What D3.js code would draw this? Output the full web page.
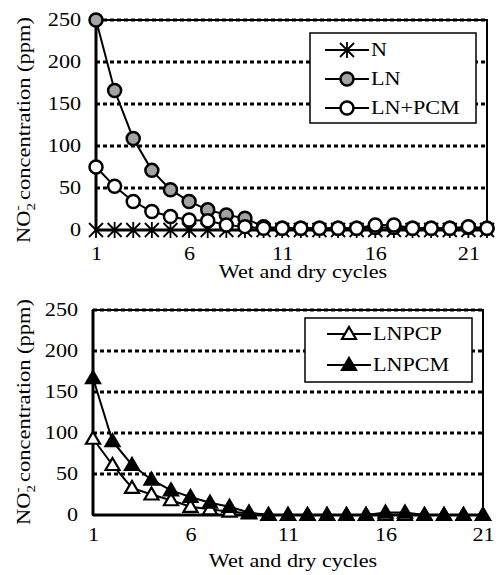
<!DOCTYPE html>
<html>
<head>
<meta charset="utf-8">
<script src="https://cdnjs.cloudflare.com/ajax/libs/d3/7.8.5/d3.min.js"></script>
<style>
   body { margin: 0; background: #fff; }
   svg text { font-family: "Liberation Serif", "Times New Roman", Times, "DejaVu Serif", serif !important; }
   .grid line { stroke: #000; stroke-width: 3; stroke-dasharray: 4,3; }
   .series-line { fill: none; stroke: #000; stroke-width: 2; }
</style>
</head>
<body>
<div id="chart"></div>
<script>
// Top panel data
const topCycles = [1, 2, 3, 4, 5, 6, 7, 8, 9, 10, 11, 12, 13, 14, 15, 16, 17, 18, 19, 20, 21, 22];
const nValues = [0, 0, 0, 0, 0, 0, 0, 0, 0, 0, 0, 0, 0, 0, 0, 0, 0, 0, 0, 0, 0, 0];
const lnValues = [250, 166, 109, 71, 48, 34, 24, 18, 14, 4, 2, 2, 2, 2, 2, 3, 3, 2, 2, 2, 3, 2];
const lnPcmValues = [75, 52, 34, 22, 16, 12, 11, 6, 4, 2, 2, 2, 2, 2, 2, 6, 6, 2, 2, 2, 4, 2];

// Bottom panel data
const bottomCycles = [1, 2, 3, 4, 5, 6, 7, 8, 9, 10, 11, 12, 13, 14, 15, 16, 17, 18, 19, 20, 21];
const lnpcpValues = [93, 61, 33, 25, 18, 10, 7, 4, 2, 0, 0, 0, 0, 0, 0, 0, 0, 0, 0, 0, 0];
const lnpcmValues = [167, 90, 61, 43, 30, 22, 15, 10, 3, 0, 0, 0, 0, 0, 0, 3, 3, 0, 0, 0, 0];

// Axis ticks
const xTicks = [1, 6, 11, 16, 21];
const yTicks = [0, 50, 100, 150, 200, 250];

const stretch = 1.23;

const svg = d3.select("#chart").append("svg")
   .attr("width", 496)
   .attr("height", 575);

const markers = {
   star: (g) => {
      g.append("path")
         .attr("d", "M-7,-7L7,7M-7,7L7,-7M0,-8L0,8")
         .attr("fill", "none")
         .attr("stroke", "#000")
         .attr("stroke-width", 1.8);
   },
   circle: (fill) => (g) => {
      g.append("circle")
         .attr("r", 6.5)
         .attr("fill", fill)
         .attr("stroke", "#000")
         .attr("stroke-width", 2.5);
   },
   triangle: (fill) => (g) => {
      g.append("path")
         .attr("d", "M0,-7L7,5L-7,5Z")
         .attr("fill", fill)
         .attr("stroke", "#000")
         .attr("stroke-width", 2.2)
         .attr("stroke-linejoin", "miter");
   }
};

const drawPanel = (panel) => {
   const x = d3.scaleLinear().domain(panel.xDomain).range(panel.xRange);
   const y = d3.scaleLinear().domain([0, 250]).range(panel.yRange);
   const g = svg.append("g");

   // Dotted gridlines
   g.append("g")
      .attr("class", "grid")
      .selectAll("line")
      .data(yTicks.filter(d => d > 0))
      .enter()
      .append("line")
      .attr("x1", x.range()[0])
      .attr("x2", x.range()[1])
      .attr("y1", d => y(d))
      .attr("y2", d => y(d));

   // Plot border
   g.append("rect")
      .attr("x", x.range()[0])
      .attr("y", y(250))
      .attr("width", x.range()[1] - x.range()[0])
      .attr("height", y(0) - y(250))
      .attr("fill", "none")
      .attr("stroke", "#000")
      .attr("stroke-width", 2);
   g.append("line")
      .attr("x1", x.range()[0]).attr("x2", x.range()[0])
      .attr("y1", y(250)).attr("y2", y(0))
      .attr("stroke", "#000").attr("stroke-width", 3);
   g.append("line")
      .attr("x1", x.range()[0]).attr("x2", x.range()[1])
      .attr("y1", y(0)).attr("y2", y(0))
      .attr("stroke", "#000").attr("stroke-width", 3);

   // Axes
   const xAxis = g.append("g")
      .attr("transform", "translate(0," + y(0) + ")")
      .call(d3.axisBottom(x).tickValues(xTicks).tickSize(0).tickPadding(panel.xPad));
   const yAxis = g.append("g")
      .attr("transform", "translate(" + x.range()[0] + ",0)")
      .call(d3.axisLeft(y).tickValues(yTicks).tickSize(0).tickPadding(15));
   [xAxis, yAxis].forEach(a => {
      a.attr("font-family", null).attr("font-size", null);
      a.select(".domain").remove();
      a.selectAll("text")
         .attr("font-size", 18)
         .attr("fill", "#000")
         .attr("transform", "scale(" + stretch + ",1)");
   });
   yAxis.selectAll("text").attr("x", -15 / stretch);

   // Series
   const line = d3.line().x(d => x(d.c)).y(d => y(d.v));
   panel.series.forEach(s => {
      const pts = panel.cycles.map((c, i) => ({ c: c, v: s.values[i] }));
      g.append("path")
         .datum(pts)
         .attr("class", "series-line")
         .attr("d", line);
      g.selectAll(null)
         .data(pts)
         .enter()
         .append("g")
         .attr("transform", d => "translate(" + x(d.c) + "," + y(d.v) + ")")
         .each(function () { s.marker(d3.select(this)); });
   });

   // Axis titles
   g.append("text")
      .attr("transform", "translate(" + panel.xTitle[0] + "," + panel.xTitle[1] + ") scale(" + stretch + ",1)")
      .attr("text-anchor", "middle")
      .attr("font-size", 18)
      .text("Wet and dry cycles");

   const yt = g.append("text")
      .attr("transform", "translate(30," + panel.yTitleY + ") rotate(-90) scale(" + (stretch + 0.02) + ",1)")
      .attr("text-anchor", "middle")
      .attr("font-size", 18);
   yt.append("tspan").text("NO");
   yt.append("tspan").attr("font-size", 12).attr("dy", 5).text("2");
   yt.append("tspan").attr("font-size", 12).attr("dx", -6).attr("dy", -13).text("-");
   yt.append("tspan").attr("dy", 8).text(" concentration (ppm)");

   // Legend
   const lg = svg.append("g");
   lg.append("rect")
      .attr("x", panel.legend.x)
      .attr("y", panel.legend.y)
      .attr("width", panel.legend.w)
      .attr("height", panel.legend.h)
      .attr("fill", "#fff")
      .attr("stroke", "#000")
      .attr("stroke-width", 1.5);
   panel.series.slice().sort((a, b) => a.order - b.order).forEach((s, i) => {
      const ly = panel.legend.y + panel.legend.first + i * panel.legend.step;
      const lx = panel.legend.x + panel.legend.lineStart;
      lg.append("line")
         .attr("x1", lx).attr("x2", lx + 44)
         .attr("y1", ly).attr("y2", ly)
         .attr("stroke", "#000").attr("stroke-width", 2);
      s.marker(lg.append("g").attr("transform", "translate(" + (lx + 22) + "," + ly + ")"));
      lg.append("text")
         .attr("transform", "translate(" + (lx + 46) + "," + (ly + 6) + ") scale(" + stretch + ",1)")
         .attr("font-size", 18)
         .text(s.name);
   });
};

drawPanel({
   cycles: topCycles,
   xDomain: [1, 22],
   xRange: [96, 487],
   yRange: [230, 20],
   xPad: 17,
   xTitle: [303, 278],
   yTitleY: 130,
   series: [
      { name: "N", values: nValues, marker: markers.star, order: 0 },
      { name: "LN", values: lnValues, marker: markers.circle("#a3a3a3"), order: 1 },
      { name: "LN+PCM", values: lnPcmValues, marker: markers.circle("#fff"), order: 2 }
   ],
   legend: { x: 310, y: 33, w: 166, h: 90, first: 17, step: 29, lineStart: 15 }
});

drawPanel({
   cycles: bottomCycles,
   xDomain: [1, 21],
   xRange: [93, 483],
   yRange: [515, 310],
   xPad: 13,
   xTitle: [293, 567],
   yTitleY: 412,
   series: [
      { name: "LNPCP", values: lnpcpValues, marker: markers.triangle("#fff"), order: 0 },
      { name: "LNPCM", values: lnpcmValues, marker: markers.triangle("#000"), order: 1 }
   ],
   legend: { x: 305, y: 318, w: 167, h: 64, first: 16, step: 31, lineStart: 22 }
});
</script>
</body>
</html>
